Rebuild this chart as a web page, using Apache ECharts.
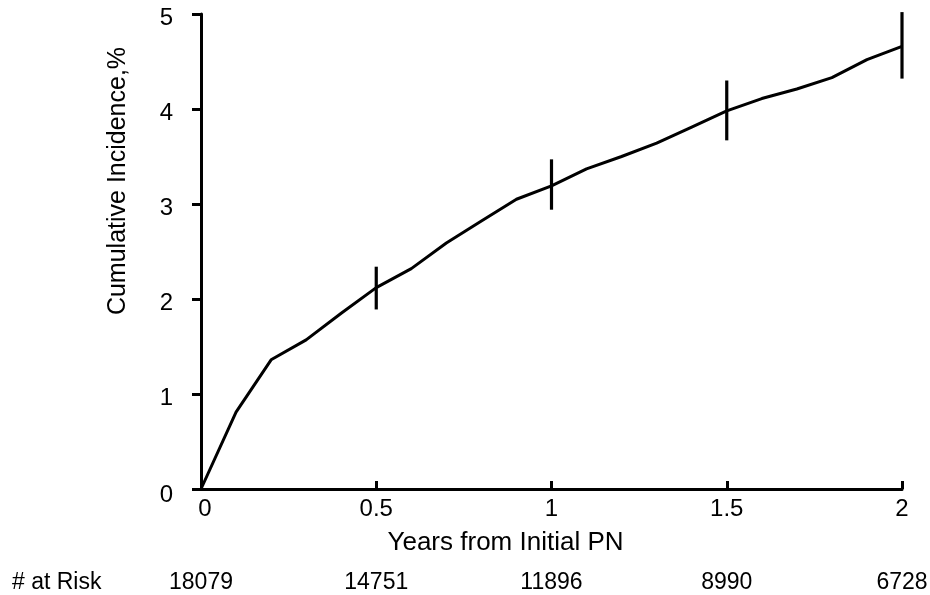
<!DOCTYPE html>
<html>
<head>
<meta charset="utf-8">
<script src="https://cdn.jsdelivr.net/npm/echarts@6/dist/echarts.min.js"></script>
<style>
  html, body { margin: 0; padding: 0; background: #fff; }
  #main { width: 930px; height: 595px; }
</style>
</head>
<body>
<div id="main"></div>
<script>
// 数据
var years = [0, 0.1, 0.2, 0.3, 0.4, 0.5, 0.6, 0.7, 0.8, 0.9, 1.0,
             1.1, 1.2, 1.3, 1.4, 1.5, 1.6, 1.7, 1.8, 1.9, 2.0];
var incidence = [0, 0.81, 1.36, 1.57, 1.85, 2.12, 2.32, 2.59, 2.82, 3.05, 3.19,
                 3.37, 3.50, 3.64, 3.81, 3.98, 4.11, 4.21, 4.33, 4.52, 4.66];
var ciYears = [0.5, 1.0, 1.5, 2.0];
var ciLow = [1.89, 2.94, 3.67, 4.32];
var ciHigh = [2.34, 3.47, 4.30, 5.02];
var riskYears = [0, 0.5, 1.0, 1.5, 2.0];
var atRisk = [18079, 14751, 11896, 8990, 6728];

var font = 'Liberation Sans, Arial, sans-serif';

var myChart = echarts.init(document.getElementById('main'));
myChart.setOption({
    animation: false,
    backgroundColor: '#fff',
    grid: { left: 201, right: 28, top: 14, bottom: 106 },
    xAxis: {
        type: 'value',
        min: 0, max: 2, interval: 0.5,
        name: 'Years from Initial PN',
        nameLocation: 'middle',
        nameGap: 41,
        nameTextStyle: { fontFamily: font, fontSize: 26, color: '#000', padding: [0, 92, 0, 0] },
        axisLine: { lineStyle: { color: '#000', width: 3 } },
        axisTick: { inside: true, length: 8, lineStyle: { color: '#000', width: 3 } },
        axisLabel: {
            margin: 8, fontFamily: font, fontSize: 24, color: '#000',
            formatter: function (v) { return v === 0 ? '{z|0}' : String(v); },
            rich: { z: { fontFamily: font, fontSize: 24, color: '#000', padding: [0, 0, 0, 8] } }
        },
        splitLine: { show: false }
    },
    yAxis: {
        type: 'value',
        min: 0, max: 5, interval: 1,
        axisLine: { show: true, lineStyle: { color: '#000', width: 3 } },
        axisTick: { show: true, length: 9, lineStyle: { color: '#000', width: 3 } },
        axisLabel: {
            margin: 28, fontFamily: font, fontSize: 24, color: '#000',
            formatter: function (v) { return v === 0 ? '{z|0}' : '{n|' + v + '}'; },
            rich: {
                n: { fontFamily: font, fontSize: 24, color: '#000', padding: [8, 0, 0, 0] },
                z: { fontFamily: font, fontSize: 24, color: '#000', padding: [12, 0, 0, 0] }
            }
        },
        splitLine: { show: false }
    },
    graphic: [
        {
            type: 'text', x: 118, y: 181, rotation: Math.PI / 2,
            style: { text: 'Cumulative Incidence,%', fontFamily: font, fontSize: 25,
                     fill: '#000', align: 'center', verticalAlign: 'middle' }
        },
        {
            type: 'text', x: 12, y: 583,
            style: { text: '# at Risk', fontFamily: font, fontSize: 23,
                     fill: '#000', align: 'left', verticalAlign: 'middle' }
        }
    ],
    series: [
        {
            type: 'line',
            data: years.map(function (x, i) { return [x, incidence[i]]; }),
            showSymbol: false,
            lineStyle: { color: '#000', width: 3 },
            z: 3
        },
        {
            type: 'custom',
            data: ciYears.map(function (x, i) { return [x, ciLow[i], ciHigh[i]]; }),
            renderItem: function (params, api) {
                var lo = api.coord([api.value(0), api.value(1)]);
                var hi = api.coord([api.value(0), api.value(2)]);
                return {
                    type: 'line',
                    shape: { x1: lo[0], y1: lo[1], x2: hi[0], y2: hi[1] },
                    style: { stroke: '#000', lineWidth: 3.2 }
                };
            },
            z: 4
        },
        {
            type: 'custom',
            clip: false,
            data: riskYears.map(function (x, i) { return [x, atRisk[i]]; }),
            renderItem: function (params, api) {
                var p = api.coord([api.value(0), 0]);
                return {
                    type: 'text',
                    x: p[0], y: p[1] + 94,
                    style: { text: String(api.value(1)), fontFamily: font, fontSize: 23,
                             fill: '#000', align: 'center', verticalAlign: 'middle' }
                };
            }
        }
    ]
});
</script>
</body>
</html>
